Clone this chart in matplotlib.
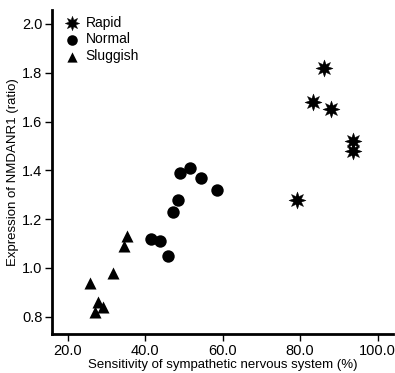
import matplotlib
matplotlib.use("Agg")
import matplotlib.pyplot as plt

plt.rcParams['font.family'] = ['Liberation Sans', 'DejaVu Sans']

# data
rapidX = [86.2, 83.2, 88.0, 93.6, 93.6, 79.1]
rapidY = [1.82, 1.68, 1.65, 1.52, 1.48, 1.28]
normalX = [41.4, 43.8, 45.9, 47.1, 48.5, 58.4, 48.9, 51.5, 54.4]
normalY = [1.12, 1.11, 1.05, 1.23, 1.28, 1.32, 1.39, 1.41, 1.37]
sluggishX = [25.7, 27.7, 27.0, 29.0, 31.7, 34.5, 35.2]
sluggishY = [0.94, 0.86, 0.82, 0.84, 0.98, 1.09, 1.13]

xTicks = [20, 40, 60, 80, 100]
yTicks = [0.8, 1.0, 1.2, 1.4, 1.6, 1.8, 2.0]

fig = plt.figure(figsize=(3.95, 3.73), dpi=100)
ax = fig.add_axes([0.132, 0.105, 0.863, 0.868])

ax.scatter(rapidX, rapidY, marker=(8, 1, 0), s=150, color='black', linewidths=0.3, label='Rapid')
ax.scatter(normalX, normalY, marker='o', s=80, color='black', linewidths=0, label='Normal')
ax.scatter(sluggishX, sluggishY, marker='^', s=75, color='black', linewidths=0, label='Sluggish')

ax.set_xlim(15.9, 104)
ax.set_ylim(0.73, 2.057)
ax.set_xticks(xTicks)
ax.set_xticklabels(["%.1f" % v for v in xTicks])
ax.set_yticks(yTicks)
ax.set_yticklabels(["%.1f" % v for v in yTicks])

for s in ['top', 'right']:
    ax.spines[s].set_visible(False)
for s in ['left', 'bottom']:
    ax.spines[s].set_linewidth(2)
ax.tick_params(direction='out', length=5, width=1, labelsize=10.5, pad=2)

ax.set_xlabel("Sensitivity of sympathetic nervous system (%)", fontsize=9.5, labelpad=1)
ax.set_ylabel("Expression of NMDANR1 (ratio)", fontsize=9.5, labelpad=2)

ax.legend(loc='upper left', frameon=False, fontsize=10, handletextpad=0.0,
          borderaxespad=0.2, labelspacing=0.2, borderpad=0.2, markerscale=0.85)

fig.savefig("out.png", dpi=100)
